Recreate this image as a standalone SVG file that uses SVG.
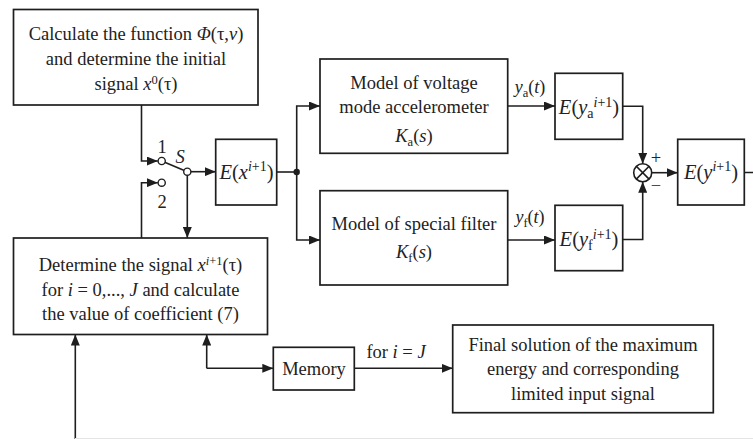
<svg xmlns="http://www.w3.org/2000/svg" width="753" height="439" viewBox="0 0 753 439">
<style>
.box{fill:#fff;stroke:#1e1e1e;stroke-width:1.7}
.ln{fill:none;stroke:#1e1e1e;stroke-width:1.6}
.t{font-family:"Liberation Serif","DejaVu Serif",serif;font-size:18.5px;fill:#222;text-anchor:middle}
.e{font-size:20.5px}
.s{font-size:18px}
.i{font-style:italic}
.sm{font-size:12.5px}
.e .sm{font-size:14px}
</style>
<defs>
<marker id="ar" markerWidth="11" markerHeight="9" refX="11" refY="4.5" orient="auto" markerUnits="userSpaceOnUse">
<path d="M0,0 L11,4.5 L0,9 z" fill="#1e1e1e"/>
</marker>
</defs>
<rect width="753" height="439" fill="#fff"/>
<g id="connectors">
<path class="ln" d="M141.5,105 V161 H157.8" marker-end="url(#ar)"/>
<path class="ln" d="M141.5,238 V182.7 H157.8" marker-end="url(#ar)"/>
<path class="ln" d="M161.7,161 L187.3,171.7"/>
<path class="ln" d="M191,171.7 H215.7" marker-end="url(#ar)"/>
<path class="ln" d="M187.3,175.3 V238" marker-end="url(#ar)"/>
<path class="ln" d="M276.7,172 H296.7"/>
<path class="ln" d="M296.7,172 V106 H320" marker-end="url(#ar)"/>
<path class="ln" d="M296.7,172 V240 H320" marker-end="url(#ar)"/>
<path class="ln" d="M507.7,106 H555" marker-end="url(#ar)"/>
<path class="ln" d="M507.7,240 H555" marker-end="url(#ar)"/>
<path class="ln" d="M622.7,106.3 H642.7 V163.7" marker-end="url(#ar)"/>
<path class="ln" d="M622.7,239.5 H642.7 V181.7" marker-end="url(#ar)"/>
<path class="ln" d="M651.7,172.7 H677.7" marker-end="url(#ar)"/>
<path class="ln" d="M744.3,172.5 H762 V441 H75.3 V334.5" marker-end="url(#ar)"/>
<path d="M75,438.5 H753" stroke="#e4e4e4" stroke-width="1" fill="none"/>
<path class="ln" d="M206.7,368.3 V334.5" marker-end="url(#ar)"/>
<path class="ln" d="M206.7,368.3 H273.3" marker-end="url(#ar)"/>
<path class="ln" d="M354.3,368.3 H452.7" marker-end="url(#ar)"/>
<circle cx="296.7" cy="172" r="3.2" fill="#1e1e1e"/>
<text class="t s" x="530" y="93"><tspan class="i">y</tspan><tspan class="sm" dy="4">a</tspan><tspan dy="-4">(</tspan><tspan class="i">t</tspan>)</text>
<text class="t s" x="530" y="223"><tspan class="i">y</tspan><tspan class="sm" dy="4">f</tspan><tspan dy="-4">(</tspan><tspan class="i">t</tspan>)</text>
<text class="t" x="396" y="358">for <tspan class="i">i</tspan> = <tspan class="i">J</tspan></text>
</g>
<g id="switch">
<circle cx="161.7" cy="161" r="3.6" fill="#fff" stroke="#1e1e1e" stroke-width="1.4"/>
<circle cx="161.7" cy="182.7" r="3.6" fill="#fff" stroke="#1e1e1e" stroke-width="1.4"/>
<circle cx="187.3" cy="171.7" r="3.6" fill="#fff" stroke="#1e1e1e" stroke-width="1.4"/>
<text class="t" x="162" y="153">1</text>
<text class="t" x="162" y="208">2</text>
<text class="t i" x="180" y="163">S</text>
</g>
<g id="init">
<rect class="box" x="13.5" y="9.5" width="244.5" height="95.5"/>
<text class="t" x="136" y="39.5">Calculate the function <tspan class="i">Φ</tspan>(τ,<tspan class="i">v</tspan>)</text>
<text class="t" x="136" y="64.5">and determine the initial</text>
<text class="t" x="136" y="90">signal <tspan class="i">x</tspan><tspan class="sm" dy="-6">0</tspan><tspan dy="6">(τ)</tspan></text>
</g>
<g id="determine">
<rect class="box" x="13.5" y="238" width="254" height="96.5"/>
<text class="t" x="140.5" y="271">Determine the signal <tspan class="i">x</tspan><tspan class="sm" dy="-6"><tspan class="i">i</tspan>+1</tspan><tspan dy="6">(τ)</tspan></text>
<text class="t" x="140.5" y="296">for <tspan class="i">i</tspan> = 0,..., <tspan class="i">J</tspan>  and calculate</text>
<text class="t" x="140.5" y="320">the value of coefficient (7)</text>
</g>
<g id="ex">
<rect class="box" x="215.7" y="139.3" width="61" height="65.7"/>
<text class="t e" x="246.5" y="179"><tspan class="i">E</tspan>(<tspan class="i">x</tspan><tspan class="sm" dy="-8"><tspan class="i">i</tspan>+1</tspan><tspan dy="8">)</tspan></text>
</g>
<g id="accelerometer">
<rect class="box" x="320" y="59" width="187.7" height="94.3"/>
<text class="t" x="414" y="88.5">Model of voltage</text>
<text class="t" x="414" y="113">mode accelerometer</text>
<text class="t" x="414" y="142"><tspan class="i">K</tspan><tspan class="sm" dy="4">a</tspan><tspan dy="-4">(</tspan><tspan class="i">s</tspan>)</text>
</g>
<g id="filter">
<rect class="box" x="320" y="190.7" width="187.7" height="94.3"/>
<text class="t" x="414" y="230">Model of special filter</text>
<text class="t" x="414" y="258"><tspan class="i">K</tspan><tspan class="sm" dy="4">f</tspan><tspan dy="-4">(</tspan><tspan class="i">s</tspan>)</text>
</g>
<g id="eya">
<rect class="box" x="555" y="73.3" width="67.7" height="66"/>
<text class="t e" x="589" y="113.5"><tspan class="i">E</tspan>(<tspan class="i">y</tspan><tspan class="sm" dy="4">a</tspan><tspan class="sm" dy="-11"><tspan class="i">i</tspan>+1</tspan><tspan dy="7">)</tspan></text>
</g>
<g id="eyf">
<rect class="box" x="555" y="205.3" width="67.7" height="65.4"/>
<text class="t e" x="589" y="245.5"><tspan class="i">E</tspan>(<tspan class="i">y</tspan><tspan class="sm" dy="4">f</tspan><tspan class="sm" dy="-11"><tspan class="i">i</tspan>+1</tspan><tspan dy="7">)</tspan></text>
</g>
<g id="sum">
<circle cx="642.7" cy="172.7" r="9" fill="#fff" stroke="#1e1e1e" stroke-width="1.6"/>
<path class="ln" d="M636.3,166.3 L649.1,179.1 M649.1,166.3 L636.3,179.1"/>
<text class="t" x="656" y="163.5">+</text>
<text class="t" x="656" y="191.5">−</text>
</g>
<g id="ey">
<rect class="box" x="677.7" y="139.3" width="66.6" height="65.7"/>
<text class="t e" x="711" y="179"><tspan class="i">E</tspan>(<tspan class="i">y</tspan><tspan class="sm" dy="-8"><tspan class="i">i</tspan>+1</tspan><tspan dy="8">)</tspan></text>
</g>
<g id="memory">
<rect class="box" x="273.3" y="347.3" width="81" height="42.7"/>
<text class="t" x="314" y="374.5">Memory</text>
</g>
<g id="final">
<rect class="box" x="452.7" y="325" width="260.6" height="87.7"/>
<text class="t" x="583" y="350.5">Final solution of the maximum</text>
<text class="t" x="583" y="375">energy and corresponding</text>
<text class="t" x="583" y="399.5">limited input signal</text>
</g>
</svg>
